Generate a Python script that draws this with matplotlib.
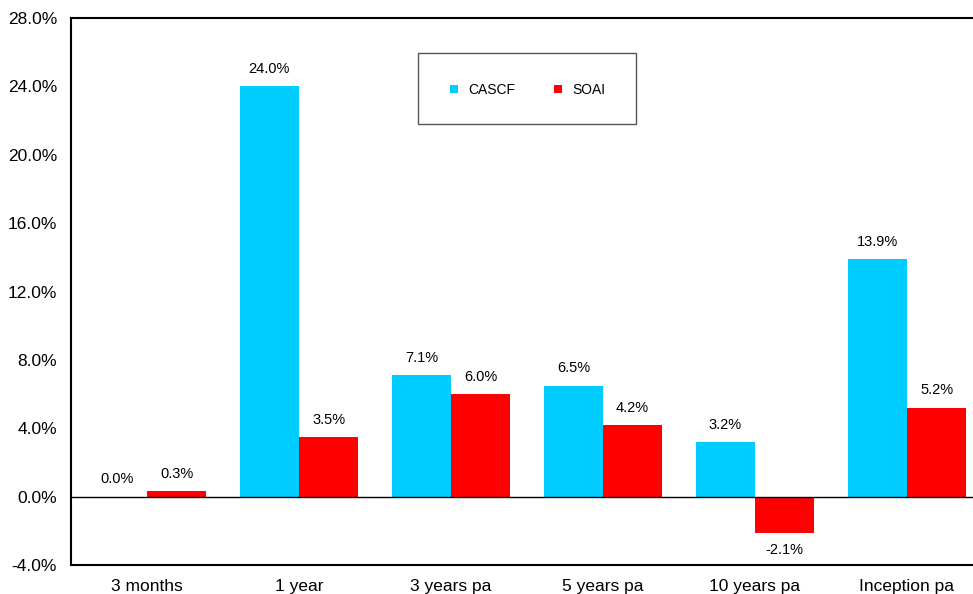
import matplotlib
matplotlib.use("Agg")
import matplotlib.pyplot as plt
from matplotlib.patches import Rectangle
import numpy as np

categories = ["3 months", "1 year", "3 years pa", "5 years pa", "10 years pa", "Inception pa"]
cascf = [0.0, 24.0, 7.1, 6.5, 3.2, 13.9]
soai = [0.3, 3.5, 6.0, 4.2, -2.1, 5.2]
yticks = [-4, 0, 4, 8, 12, 16, 20, 24, 28]

plt.rcParams['font.family'] = ['Liberation Sans', 'DejaVu Sans']

fig = plt.figure(figsize=(9.73, 5.94), dpi=100)
ax = fig.add_axes([71/973, 29/594, 912/973, 547/594])

x = np.arange(len(categories))
w = 0.39
ax.bar(x - w/2, cascf, w, color="#00CCFF", label="CASCF")
ax.bar(x + w/2, soai, w, color="#FF0000", label="SOAI")

for xs, vals in ((x - w/2, cascf), (x + w/2, soai)):
    for xi, v in zip(xs, vals):
        ax.text(xi, v + 0.6 if v >= 0 else v - 0.6, f"{v:.1f}%", ha="center",
                va="bottom" if v >= 0 else "top", fontsize=10.5)

ax.axhline(0, color="black", lw=1)
ax.set_xlim(-0.5, len(categories) - 0.5)
ax.set_ylim(-4, 28)
ax.set_yticks(yticks)
ax.set_yticklabels([f"{t:.1f}%" for t in yticks], fontsize=12.5)
ax.set_xticks(x)
ax.set_xticklabels(categories, fontsize=12.5)
ax.tick_params(length=0)
ax.tick_params(axis='y', pad=10)
ax.tick_params(axis='x', pad=10)
for s in ["left", "bottom", "top"]:
    ax.spines[s].set_linewidth(1.5)
ax.spines["right"].set_visible(False)

# legend box
ax.add_patch(Rectangle(((418-71)/912, (565-124)/547), 218/912, 71/547,
                       transform=ax.transAxes, fill=False, edgecolor="#555555",
                       lw=1, zorder=5))
leg = ax.legend(loc="center", bbox_to_anchor=((528-71)/912, (565-90)/547),
                ncol=2, frameon=False, fontsize=10,
                handlelength=0.55, handleheight=0.55, columnspacing=2.8,
                borderpad=0, borderaxespad=0, handletextpad=0.75)

fig.savefig("out.png", dpi=100)
